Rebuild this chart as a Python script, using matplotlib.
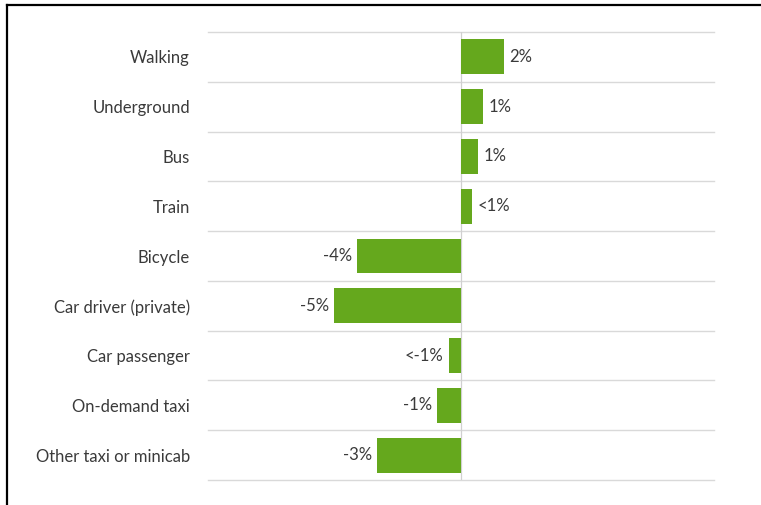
import matplotlib
matplotlib.use('Agg')
import matplotlib.pyplot as plt
import numpy as np
from matplotlib.lines import Line2D

modes = ["Walking", "Underground", "Bus", "Train", "Bicycle",
         "Car driver (private)", "Car passenger", "On-demand taxi",
         "Other taxi or minicab"]
change = [1.68, 0.88, 0.67, 0.42, -4.1, -5.0, -0.46, -0.93, -3.31]
labels = ["2%", "1%", "1%", "<1%", "-4%", "-5%", "<-1%", "-1%", "-3%"]

W, H = 761, 505
plt.rcParams['font.family'] = ['Lato', 'DejaVu Sans']
txt = '#3a3a3a'

fig = plt.figure(figsize=(W / 100, H / 100), dpi=100)
ax = fig.add_axes([208 / W, 1 - 480 / H, (714 - 208) / W, (480 - 32) / H])

y = np.arange(len(modes))
ax.barh(y, change, height=0.7, color='#65a81d', zorder=3)
ax.set_xlim(-10, 10)
ax.set_ylim(len(modes) - 0.5, -0.5)

ax.set_yticks(y)
ax.set_yticklabels(modes, fontsize=12, color=txt)
ax.set_yticks(np.arange(len(modes) + 1) - 0.5, minor=True)
ax.tick_params(axis='y', which='both', length=0, pad=13)
ax.set_xticks([])
ax.grid(axis='y', which='minor', color='#d9d9d9', lw=1.0)
for t in ax.yaxis.get_minor_ticks():
    t.gridline.set_clip_on(False)
ax.axvline(0, color='#d0d0d0', lw=0.9, zorder=2)
for s in ax.spines.values():
    s.set_visible(False)

for yi, v, t in zip(y, change, labels):
    if v >= 0:
        ax.annotate(t, (v, yi), xytext=(4, 0), textcoords='offset points',
                    ha='left', va='center', fontsize=12, color=txt)
    else:
        ax.annotate(t, (v, yi), xytext=(-4, 0), textcoords='offset points',
                    ha='right', va='center', fontsize=12, color=txt)

# frame visible on the top and left edges of the picture
fig.add_artist(Line2D([7 / W, 7 / W], [0, 1 - 5 / H], color='black', lw=1.6,
                      transform=fig.transFigure))
fig.add_artist(Line2D([7 / W, 1], [1 - 5 / H, 1 - 5 / H], color='black', lw=1.6,
                      transform=fig.transFigure))

fig.savefig('out.png', dpi=100)
